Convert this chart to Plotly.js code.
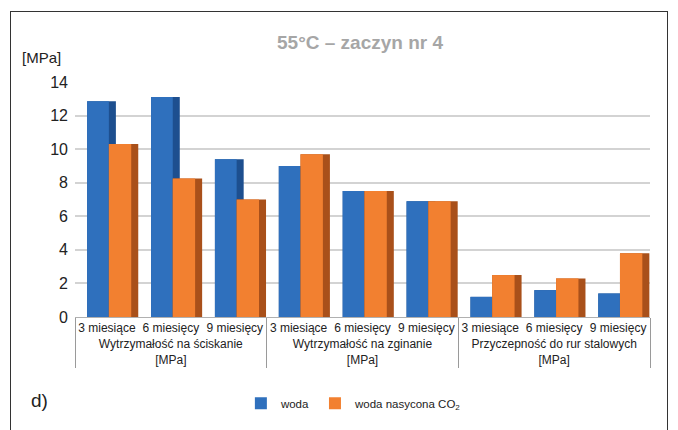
<!DOCTYPE html>
<html><head><meta charset="utf-8">
<script src="https://cdn.plot.ly/plotly-3.0.1.min.js"></script>
<style>
html,body{margin:0;padding:0;background:#fff;}
#frame{position:absolute;left:10px;top:11px;width:658px;height:440px;border:1px solid #333;box-sizing:border-box;pointer-events:none;z-index:5;}
#chart{position:absolute;left:0;top:0;width:678px;height:430px;}
</style></head>
<body>
<div id="chart"></div>
<div id="frame"></div>
<script>
const groups = ["Wytrzymałość na ściskanie<br>[MPa]", "Wytrzymałość na zginanie<br>[MPa]", "Przyczepność do rur stalowych<br>[MPa]"];
const periods = ["3 miesiące", "6 miesięcy", "9 miesięcy"];
const woda = [12.85, 13.1, 9.4, 9.0, 7.5, 6.9, 1.2, 1.6, 1.4];
const wodaCO2 = [10.3, 8.25, 7.0, 9.7, 7.5, 6.9, 2.5, 2.3, 3.8];

const xg = [], xp = [];
groups.forEach(g => periods.forEach(p => { xg.push(g); xp.push(p); }));
const x = [xg, xp];

const traces = [
  {type:'bar', x:x, y:woda, offset:-0.31, width:0.45, marker:{color:'#1d4f8f'}, showlegend:false, hoverinfo:'skip'},
  {type:'bar', x:x, y:woda, offset:-0.31, width:0.34, marker:{color:'#2f70bd'}, name:'woda'},
  {type:'bar', x:x, y:wodaCO2, offset:0.03, width:0.46, marker:{color:'#a9501a'}, showlegend:false, hoverinfo:'skip'},
  {type:'bar', x:x, y:wodaCO2, offset:0.03, width:0.35, marker:{color:'#f28030'}, name:'woda nasycona CO<sub>2</sub>'}
];

const layout = {
  width:678, height:430,
  margin:{l:75, r:28, t:82, b:108},
  paper_bgcolor:'#fff', plot_bgcolor:'#fff',
  barmode:'overlay',
  title:{text:'<b>55°C – zaczyn nr 4</b>', x:0.531, xanchor:'center', y:0.902, yanchor:'middle',
         font:{family:'Liberation Sans Narrow, Liberation Sans, Arial', size:19, color:'#a6a6a6'}},
  font:{family:'Liberation Sans, Arial', color:'#222'},
  xaxis:{type:'multicategory', showline:true, linecolor:'#b0b0b0', linewidth:1,
         showdividers:true, dividercolor:'#9a9a9a', dividerwidth:1,
         tickfont:{size:12, color:'#222'}, showgrid:false, ticks:'', tickangle:0},
  yaxis:{range:[0,14], dtick:2, showgrid:true, gridcolor:'#d3d3d3', gridwidth:2,
         zeroline:false, showline:false, tickfont:{size:16, color:'#222'}, ticklabelstandoff:6},
  legend:{orientation:'h', x:0.485, xanchor:'center', y:-0.367, yanchor:'middle',
          font:{size:11.5, color:'#222'}, itemwidth:30},
  annotations:[
    {text:'[MPa]', xref:'paper', yref:'paper', x:-0.096, xanchor:'left', y:1+25/240, yanchor:'middle',
     showarrow:false, font:{size:15, color:'#222'}},
    {text:'d)', xref:'paper', yref:'paper', x:-0.08, xanchor:'left', y:-0.354, yanchor:'middle',
     showarrow:false, font:{size:19, color:'#222'}}
  ]
};

Plotly.newPlot('chart', traces, layout, {displayModeBar:false, responsive:false});
</script>
</body></html>
